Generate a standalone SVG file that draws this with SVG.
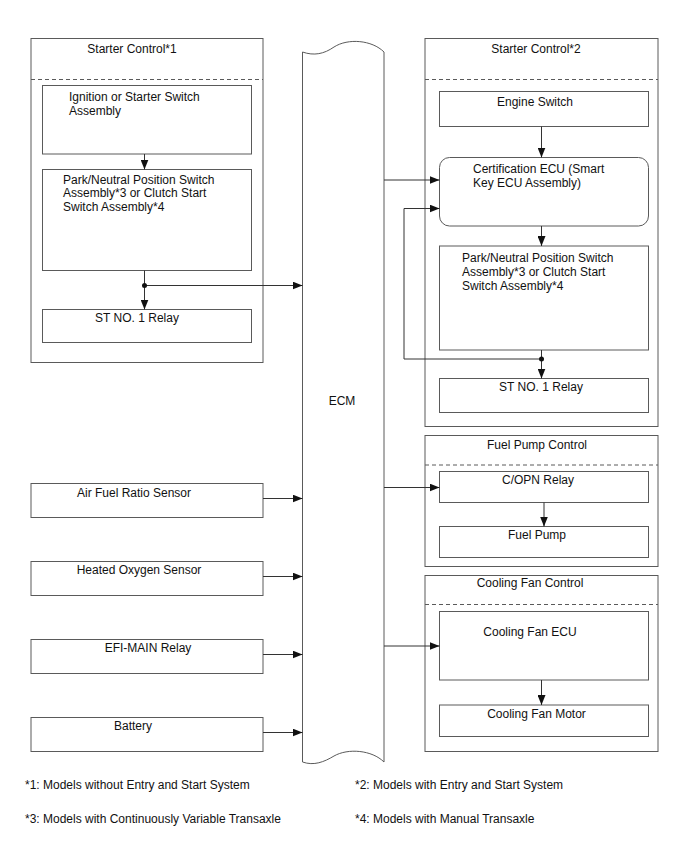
<svg xmlns="http://www.w3.org/2000/svg" width="688" height="852" viewBox="0 0 688 852">
<defs>
<style>
.box{fill:#fff;stroke:#5a5a5a;stroke-width:1}
.dash{stroke:#5a5a5a;stroke-width:1;stroke-dasharray:4 3;fill:none}
.ln{stroke:#333;stroke-width:1;fill:none}
text{font-family:"Liberation Sans",Arial,sans-serif;font-size:12px;fill:#111}
.c{text-anchor:middle}
</style>
<marker id="ah" viewBox="0 0 10 8" refX="10" refY="4" markerWidth="10" markerHeight="8" markerUnits="userSpaceOnUse" orient="auto">
<path d="M0,0 L10,4 L0,8 Z" fill="#111"/>
</marker>
</defs>
<rect width="688" height="852" fill="#fff"/>

<g id="starter-control-1">
<rect class="box" x="31" y="38.5" width="232" height="324"/>
<text class="c" x="132" y="53">Starter Control*1</text>
<line class="dash" x1="31" y1="79.5" x2="263" y2="79.5"/>
</g>
<g id="ignition-switch">
<rect class="box" x="42.5" y="85.5" width="209" height="68.5"/>
<text x="69" y="101">Ignition or Starter Switch</text>
<text x="69" y="114.5">Assembly</text>
</g>
<g id="pn-switch-1">
<rect class="box" x="42.5" y="169.5" width="209" height="101"/>
<text x="63" y="183.5">Park/Neutral Position Switch</text>
<text x="63" y="197">Assembly*3 or Clutch Start</text>
<text x="63" y="210.5">Switch Assembly*4</text>
</g>
<g id="st-relay-1">
<rect class="box" x="42.5" y="309.5" width="209" height="33"/>
<text class="c" x="137" y="322">ST NO. 1 Relay</text>
</g>

<g id="ecm">
<path class="box" d="M302.5,52 C314,56 324,54 334,47 C348,38 372,40 384,52 L384,762 C372,750 348,748 334,756 C324,762 314,766 302.5,762 Z"/>
<text class="c" x="342" y="405">ECM</text>
</g>

<g id="starter-control-2">
<rect class="box" x="425" y="38.5" width="233" height="388"/>
<text class="c" x="536" y="53">Starter Control*2</text>
<line class="dash" x1="425" y1="79.5" x2="658" y2="79.5"/>
</g>
<g id="engine-switch">
<rect class="box" x="439.5" y="91.5" width="209" height="35"/>
<text class="c" x="535" y="105.5">Engine Switch</text>
</g>
<g id="certification-ecu">
<rect class="box" x="439.5" y="157.5" width="209" height="68.5" rx="10" ry="10"/>
<text x="473" y="173">Certification ECU (Smart</text>
<text x="473" y="187">Key ECU Assembly)</text>
</g>
<g id="pn-switch-2">
<rect class="box" x="439.5" y="246" width="209" height="104"/>
<text x="462" y="262">Park/Neutral Position Switch</text>
<text x="462" y="276">Assembly*3 or Clutch Start</text>
<text x="462" y="289.5">Switch Assembly*4</text>
</g>
<g id="st-relay-2">
<rect class="box" x="439.5" y="378.5" width="209" height="34"/>
<text class="c" x="541" y="391">ST NO. 1 Relay</text>
</g>

<g id="fuel-pump-control">
<rect class="box" x="425" y="435.5" width="233" height="131"/>
<text class="c" x="537" y="448.5">Fuel Pump Control</text>
<line class="dash" x1="425" y1="465" x2="658" y2="465"/>
</g>
<g id="copn-relay">
<rect class="box" x="439.5" y="471.5" width="209" height="31"/>
<text class="c" x="538" y="483.5">C/OPN Relay</text>
</g>
<g id="fuel-pump">
<rect class="box" x="439.5" y="526.5" width="209" height="31"/>
<text class="c" x="537" y="539">Fuel Pump</text>
</g>

<g id="cooling-fan-control">
<rect class="box" x="425" y="575.5" width="233" height="176"/>
<text class="c" x="530" y="587">Cooling Fan Control</text>
<line class="dash" x1="425" y1="604.5" x2="658" y2="604.5"/>
</g>
<g id="cooling-fan-ecu">
<rect class="box" x="439.5" y="611.5" width="209" height="68.5"/>
<text class="c" x="530" y="636">Cooling Fan ECU</text>
</g>
<g id="cooling-fan-motor">
<rect class="box" x="439.5" y="705" width="209" height="31.5"/>
<text class="c" x="536.5" y="718">Cooling Fan Motor</text>
</g>

<g id="air-fuel-ratio-sensor">
<rect class="box" x="31" y="483.5" width="232" height="34"/>
<text class="c" x="134" y="497">Air Fuel Ratio Sensor</text>
</g>
<g id="heated-oxygen-sensor">
<rect class="box" x="31" y="561.5" width="232" height="34"/>
<text class="c" x="139" y="573.5">Heated Oxygen Sensor</text>
</g>
<g id="efi-main-relay">
<rect class="box" x="31" y="639.5" width="232" height="34"/>
<text class="c" x="148" y="652">EFI-MAIN Relay</text>
</g>
<g id="battery">
<rect class="box" x="31" y="717.5" width="232" height="34"/>
<text class="c" x="133" y="729.5">Battery</text>
</g>

<g id="connectors">
<line class="ln" x1="144.5" y1="154" x2="144.5" y2="169.5" marker-end="url(#ah)"/>
<line class="ln" x1="144.5" y1="270.5" x2="144.5" y2="309.5" marker-end="url(#ah)"/>
<line class="ln" x1="144.5" y1="285.5" x2="302.5" y2="285.5" marker-end="url(#ah)"/>
<circle cx="144.5" cy="285.5" r="2.5" fill="#111"/>
<line class="ln" x1="541.5" y1="126.5" x2="541.5" y2="157.5" marker-end="url(#ah)"/>
<line class="ln" x1="384" y1="180" x2="439.5" y2="180" marker-end="url(#ah)"/>
<line class="ln" x1="541.5" y1="226" x2="541.5" y2="246" marker-end="url(#ah)"/>
<line class="ln" x1="541.5" y1="350" x2="541.5" y2="378.5" marker-end="url(#ah)"/>
<polyline class="ln" points="541.5,359 404,359 404,208.5 439.5,208.5" marker-end="url(#ah)"/>
<circle cx="541.5" cy="359" r="2.5" fill="#111"/>
<line class="ln" x1="384" y1="487.5" x2="439.5" y2="487.5" marker-end="url(#ah)"/>
<line class="ln" x1="544" y1="502.5" x2="544" y2="526.5" marker-end="url(#ah)"/>
<line class="ln" x1="384" y1="646" x2="439.5" y2="646" marker-end="url(#ah)"/>
<line class="ln" x1="541.5" y1="680" x2="541.5" y2="705" marker-end="url(#ah)"/>
<line class="ln" x1="263" y1="498.5" x2="302.5" y2="498.5" marker-end="url(#ah)"/>
<line class="ln" x1="263" y1="576.5" x2="302.5" y2="576.5" marker-end="url(#ah)"/>
<line class="ln" x1="263" y1="654.5" x2="302.5" y2="654.5" marker-end="url(#ah)"/>
<line class="ln" x1="263" y1="732.5" x2="302.5" y2="732.5" marker-end="url(#ah)"/>
</g>

<g id="footnotes">
<text x="25" y="788.5">*1: Models without Entry and Start System</text>
<text x="355" y="788.5">*2: Models with Entry and Start System</text>
<text x="25" y="822.5">*3: Models with Continuously Variable Transaxle</text>
<text x="355" y="822.5">*4: Models with Manual Transaxle</text>
</g>
</svg>
